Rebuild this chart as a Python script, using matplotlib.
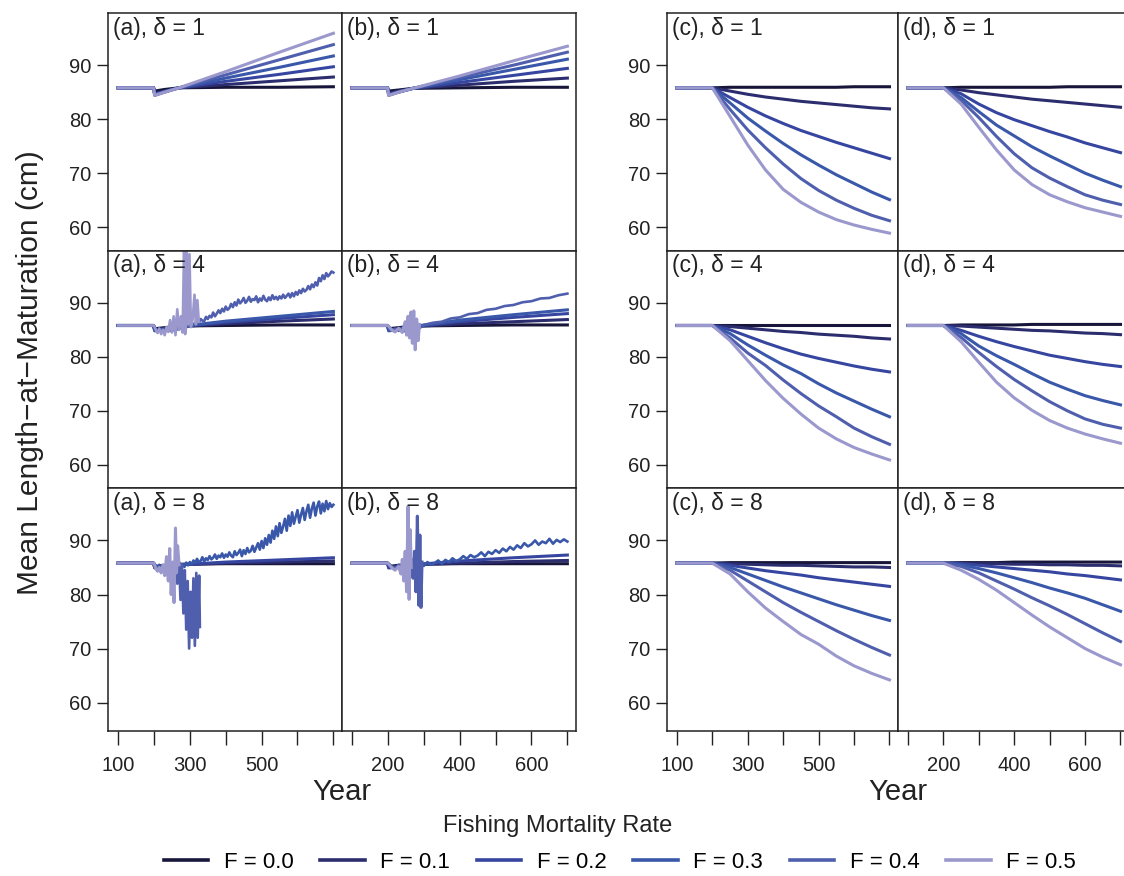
import matplotlib
matplotlib.use("Agg")
import matplotlib.pyplot as plt
from matplotlib.lines import Line2D

plt.rcParams['font.family'] = ['Liberation Sans', 'DejaVu Sans']

# ---- data ----
f_labels = ["F = 0.0", "F = 0.1", "F = 0.2", "F = 0.3", "F = 0.4", "F = 0.5"]
colors = ['#17163a', '#2c2d6e', '#3646a0', '#3a58aa', '#4f5fae', '#9a98cc']

# right-hand panels (c), (d): smooth declines
years_r = [100, 200, 250, 300, 350, 400, 450, 500, 550, 600, 650, 700]
c_delta1 = [
    [85.8, 85.8, 85.9, 85.9, 85.9, 85.9, 85.9, 85.9, 85.9, 86.0, 86.0, 86.0],
    [85.8, 85.8, 85.2, 84.6, 84.1, 83.7, 83.3, 83.0, 82.7, 82.4, 82.1, 81.9],
    [85.8, 85.8, 84.0, 82.2, 80.6, 79.2, 77.9, 76.8, 75.7, 74.7, 73.7, 72.7],
    [85.8, 85.8, 83.0, 80.2, 77.8, 75.5, 73.4, 71.5, 69.7, 68.1, 66.5, 65.1],
    [85.8, 85.8, 81.8, 78.0, 74.7, 71.7, 69.0, 66.8, 65.0, 63.5, 62.2, 61.2],
    [85.8, 85.8, 80.5, 75.2, 70.6, 67.0, 64.6, 62.8, 61.4, 60.4, 59.6, 58.9],
]
d_delta1 = [
    [85.8, 85.8, 85.9, 85.9, 85.9, 85.9, 85.9, 85.9, 86.0, 86.0, 86.0, 86.0],
    [85.8, 85.8, 85.4, 84.9, 84.5, 84.1, 83.7, 83.4, 83.1, 82.8, 82.5, 82.2],
    [85.8, 85.8, 84.7, 82.8, 81.2, 79.9, 78.8, 77.7, 76.7, 75.6, 74.7, 73.8],
    [85.8, 85.8, 84.0, 81.4, 78.9, 76.9, 74.9, 73.2, 71.6, 70.0, 68.7, 67.5],
    [85.8, 85.8, 83.5, 80.3, 76.8, 73.6, 71.0, 69.1, 67.5, 66.0, 65.0, 64.2],
    [85.8, 85.8, 82.8, 78.5, 74.3, 70.6, 67.9, 66.0, 64.7, 63.6, 62.8, 62.0],
]
c_delta4 = [
    [85.8, 85.8, 85.8, 85.8, 85.8, 85.8, 85.8, 85.8, 85.8, 85.8, 85.8, 85.8],
    [85.8, 85.8, 85.6, 85.3, 85.0, 84.7, 84.5, 84.2, 84.0, 83.8, 83.5, 83.3],
    [85.8, 85.8, 85.0, 83.8, 82.6, 81.5, 80.5, 79.7, 79.0, 78.3, 77.7, 77.2],
    [85.8, 85.8, 84.3, 82.2, 80.3, 78.5, 76.9, 75.0, 73.3, 71.8, 70.3, 68.9],
    [85.8, 85.8, 83.5, 80.7, 78.4, 75.7, 73.2, 70.9, 68.9, 66.8, 65.2, 63.8],
    [85.8, 85.8, 83.0, 79.3, 75.6, 72.3, 69.4, 66.8, 64.8, 63.2, 62.0, 60.9],
]
d_delta4 = [
    [85.8, 85.8, 85.9, 85.9, 85.9, 85.9, 86.0, 86.0, 86.0, 86.0, 86.0, 86.0],
    [85.8, 85.8, 85.7, 85.5, 85.3, 85.1, 84.9, 84.8, 84.6, 84.4, 84.3, 84.1],
    [85.8, 85.8, 84.9, 83.8, 82.8, 81.9, 81.1, 80.3, 79.7, 79.1, 78.6, 78.2],
    [85.8, 85.8, 84.3, 82.0, 80.2, 78.6, 76.9, 75.3, 74.0, 72.8, 71.9, 71.1],
    [85.8, 85.8, 83.6, 80.8, 78.2, 75.8, 73.7, 71.7, 70.0, 68.5, 67.5, 66.8],
    [85.8, 85.8, 82.8, 79.0, 75.3, 72.4, 70.1, 68.2, 66.8, 65.7, 64.8, 64.0],
]
c_delta8 = [
    [85.8, 85.8, 85.9, 85.9, 85.9, 85.9, 85.9, 85.9, 85.9, 85.9, 85.9, 85.9],
    [85.8, 85.8, 85.7, 85.6, 85.5, 85.4, 85.4, 85.3, 85.2, 85.1, 85.1, 85.0],
    [85.8, 85.8, 85.4, 84.9, 84.4, 84.0, 83.6, 83.1, 82.7, 82.3, 81.9, 81.5],
    [85.8, 85.8, 85.0, 83.8, 82.6, 81.4, 80.3, 79.2, 78.1, 77.1, 76.1, 75.2],
    [85.8, 85.8, 84.5, 82.5, 80.5, 78.5, 76.7, 75.0, 73.3, 71.7, 70.2, 68.8],
    [85.8, 85.8, 83.8, 80.5, 77.5, 75.0, 72.6, 70.8, 68.6, 66.8, 65.4, 64.2],
]
d_delta8 = [
    [85.8, 85.8, 85.9, 85.9, 85.9, 86.0, 86.0, 86.0, 86.0, 86.0, 86.0, 86.0],
    [85.8, 85.8, 85.8, 85.7, 85.7, 85.6, 85.6, 85.5, 85.5, 85.4, 85.4, 85.3],
    [85.8, 85.8, 85.7, 85.4, 85.1, 84.8, 84.5, 84.2, 83.8, 83.5, 83.1, 82.7],
    [85.8, 85.8, 85.5, 84.8, 84.0, 83.1, 82.2, 81.2, 80.3, 79.3, 78.1, 76.9],
    [85.8, 85.8, 85.2, 84.0, 82.5, 81.0, 79.4, 77.9, 76.3, 74.6, 72.9, 71.3],
    [85.8, 85.8, 84.5, 82.8, 80.8, 78.5, 76.2, 74.0, 72.0, 70.0, 68.4, 67.0],
]

# left-hand panels (a), (b): smooth series
years_l = [100, 199, 202, 230, 270, 400, 550, 700]
a_delta1 = [
    [85.8, 85.8, 85.2, 85.5, 85.8, 85.9, 85.9, 86.0],
    [85.8, 85.8, 84.8, 85.2, 85.8, 86.4, 87.1, 87.8],
    [85.8, 85.8, 84.6, 85.1, 85.8, 87.0, 88.3, 89.7],
    [85.8, 85.8, 84.5, 85.1, 85.8, 87.6, 89.6, 91.7],
    [85.8, 85.8, 84.4, 85.0, 85.8, 88.2, 91.0, 93.8],
    [85.8, 85.8, 84.4, 85.0, 85.8, 88.8, 92.4, 95.9],
]
b_delta1 = [
    [85.8, 85.8, 85.2, 85.4, 85.7, 85.8, 85.9, 85.9],
    [85.8, 85.8, 84.8, 85.2, 85.7, 86.3, 87.0, 87.6],
    [85.8, 85.8, 84.6, 85.1, 85.7, 86.8, 88.1, 89.4],
    [85.8, 85.8, 84.5, 85.0, 85.7, 87.3, 89.2, 91.1],
    [85.8, 85.8, 84.4, 85.0, 85.7, 87.7, 90.0, 92.4],
    [85.8, 85.8, 84.4, 85.0, 85.7, 88.0, 90.8, 93.5],
]
a_delta4 = [
    [85.8, 85.8, 85.2, 85.4, 85.7, 85.8, 85.9, 85.9],
    [85.8, 85.8, 85.0, 85.2, 85.6, 86.1, 86.6, 87.0],
    [85.8, 85.8, 84.9, 85.2, 85.6, 86.4, 87.1, 87.8],
    [85.8, 85.8, 84.8, 85.1, 85.6, 86.6, 87.5, 88.4],
]
b_delta4 = [
    [85.8, 85.8, 85.2, 85.4, 85.7, 85.8, 85.9, 85.9],
    [85.8, 85.8, 85.0, 85.2, 85.6, 86.1, 86.5, 86.9],
    [85.8, 85.8, 84.9, 85.2, 85.6, 86.5, 87.3, 88.0],
    [85.8, 85.8, 84.8, 85.1, 85.6, 86.8, 87.8, 88.7],
]
a_delta8 = [
    [85.8, 85.8, 85.2, 85.4, 85.6, 85.7, 85.7, 85.7],
    [85.8, 85.8, 85.0, 85.2, 85.5, 85.8, 86.0, 86.2],
    [85.8, 85.8, 84.9, 85.1, 85.5, 86.0, 86.4, 86.8],
]
b_delta8 = [
    [85.8, 85.8, 85.2, 85.4, 85.6, 85.7, 85.7, 85.7],
    [85.8, 85.8, 85.0, 85.2, 85.5, 85.8, 86.1, 86.3],
    [85.8, 85.8, 84.9, 85.1, 85.5, 86.2, 86.8, 87.3],
]

# noisy surviving series (5-year and 10-year steps)
years_5 = [100] + list(range(200, 701, 5))
years_10 = [100] + list(range(200, 701, 10))
a4_f04 = [85.8,
          85.8, 85.1, 84.7, 85.3, 84.9, 85.0, 84.6, 85.4, 85.0, 84.8,
          85.3, 84.9, 85.6, 85.1, 85.0, 85.7, 85.3, 85.9, 85.4, 86.0,
          85.7, 86.3, 86.0, 86.2, 86.8, 86.3, 87.0, 86.7, 86.6, 87.4,
          87.0, 87.6, 87.3, 88.2, 87.5, 88.0, 88.6, 88.1, 88.9, 88.4,
          89.3, 88.7, 89.0, 89.8, 89.2, 90.1, 89.5, 90.6, 89.9, 90.3,
          90.9, 90.0, 90.4, 91.1, 90.2, 90.7, 90.5, 91.2, 90.1, 90.8,
          90.4, 91.3, 90.6, 90.3, 91.0, 90.5, 91.4, 90.7, 91.1, 90.6,
          91.2, 90.8, 91.5, 90.9, 91.3, 91.7, 91.0, 91.8, 91.2, 92.0,
          91.5, 92.3, 91.8, 92.6, 92.1, 92.4, 93.1, 92.5, 93.4, 92.9,
          93.8, 93.2, 94.6, 94.0, 95.1, 94.4, 95.5, 94.9, 95.3, 95.8,
          95.6]
a8_f03 = [85.8,
          85.8, 85.2, 84.8, 85.5, 84.6, 85.3, 85.0, 84.7, 85.6, 85.1,
          84.9, 85.7, 85.2, 85.0, 85.8, 85.3, 85.6, 85.1, 85.9, 85.4,
          86.0, 85.5, 86.3, 85.8, 86.6, 86.0, 86.2, 86.9, 86.1, 86.7,
          86.4, 87.1, 86.5, 86.8, 87.4, 86.6, 87.2, 86.9, 87.6, 86.8,
          87.4, 87.0, 87.8, 87.2, 86.9, 88.0, 87.3, 87.7, 88.3, 87.1,
          88.2, 87.5, 88.6, 87.8, 88.1, 89.0, 87.9, 88.7, 89.5, 88.3,
          89.9, 88.6, 90.4, 89.2, 91.0, 89.6, 91.8, 90.3, 92.6, 90.8,
          93.2, 91.4, 92.6, 94.0, 91.8, 94.6, 92.7, 95.2, 93.1, 94.4,
          95.6, 93.3, 94.8, 96.0, 93.8, 95.4, 96.6, 94.2, 95.9, 97.0,
          94.6, 96.3, 97.2, 95.0, 96.8, 95.4, 97.3, 95.8, 96.9, 96.2,
          96.6]
b8_f03 = [85.8,
          85.8, 85.2, 84.8, 85.5, 84.9, 85.4, 85.1, 85.7, 85.0, 85.6,
          85.3, 86.0, 85.5, 85.8, 86.3, 85.7, 86.4, 86.0, 86.7, 86.2,
          86.5, 87.1, 86.6, 87.3, 86.9, 87.2, 87.8, 87.1, 87.9, 87.5,
          88.2, 87.7, 88.5, 88.0, 88.8, 88.3, 89.1, 88.6, 89.5, 88.9,
          89.3, 90.0, 89.2, 89.8, 89.5, 90.3, 89.4, 90.1, 89.7, 90.2,
          89.8]

# collapsing / oscillating series
a4_f05_years = [100, 200, 205, 210, 215, 220, 225, 230, 235, 240, 245, 250, 255, 260,
                265, 270, 275, 280, 284, 287, 291, 295, 299, 303, 308, 313, 317, 321, 325]
a4_f05 = [85.8, 85.8, 85.0, 84.4, 85.2, 84.2, 85.0, 84.0, 85.5, 84.6, 86.8, 84.5, 87.5, 84.0,
          88.8, 85.0, 87.5, 84.5, 100.5, 84.2, 100.5, 86.0, 99.0, 85.5, 87.0, 91.5, 86.0, 90.5, 86.5]
a8_f04_years = [100, 200, 210, 220, 230, 240, 250, 260, 265, 270, 274, 278, 282, 286,
                290, 294, 298, 302, 306, 310, 314, 318, 322, 326, 328]
a8_f04 = [85.8, 85.8, 85.0, 84.5, 84.2, 85.3, 84.0, 85.5, 82.0, 86.0, 79.0, 85.5, 76.5, 84.5,
          73.5, 82.5, 70.0, 80.5, 72.0, 83.0, 70.5, 84.0, 72.0, 83.5, 74.0]
a8_f05_years = [100, 200, 205, 210, 215, 220, 225, 230, 235, 240, 244, 248, 252, 256,
                260, 263, 266, 270]
a8_f05 = [85.8, 85.8, 84.8, 84.3, 85.0, 84.0, 85.5, 83.5, 87.0, 82.5, 88.5, 80.0, 86.0, 78.5,
          92.3, 84.0, 89.0, 85.5]
b4_f04_years = [100, 200, 210, 220, 230, 240, 250, 260, 270, 280, 290, 300, 325, 350, 375,
                400, 425, 450, 475, 500, 525, 550, 575, 600, 625, 650, 675, 700]
b4_f04 = [85.8, 85.8, 85.0, 85.2, 84.8, 85.3, 84.6, 85.5, 84.0, 85.8, 85.4, 85.9, 86.3, 86.5, 87.1,
          87.3, 87.9, 88.1, 88.7, 88.9, 89.4, 89.6, 90.1, 90.3, 90.8, 90.9, 91.4, 91.7]
b4_f05_years = [100, 200, 210, 220, 230, 240, 248, 252, 256, 260, 264, 268, 272, 276,
                280, 284, 288]
b4_f05 = [85.8, 85.8, 85.0, 84.6, 85.3, 84.5, 86.5, 84.0, 87.5, 83.5, 88.3, 82.5, 88.5, 81.3,
          87.0, 83.0, 86.0]
b8_f04_years = [100, 200, 210, 220, 230, 240, 250, 260, 266, 270, 274, 278, 282, 286,
                289, 292, 295]
b8_f04 = [85.8, 85.8, 85.2, 84.8, 85.4, 84.6, 85.6, 84.2, 86.5, 83.0, 88.0, 80.5, 94.5, 78.0,
          91.0, 77.6, 86.0]
b8_f05_years = [100, 200, 210, 220, 230, 236, 240, 244, 248, 252, 256, 259, 262, 265]
b8_f05 = [85.8, 85.8, 85.0, 84.5, 85.2, 83.8, 86.5, 82.5, 88.0, 80.5, 96.3, 79.1, 92.0, 85.0]

year_ticks = [100, 200, 300, 400, 500, 600, 700]

# ---- figure ----
W, H = 1124, 876
fig = plt.figure(figsize=(W / 100, H / 100), dpi=100)

col_left = {'a': 108, 'b': 342, 'c': 667, 'd': 898}
col_width = {'a': 234, 'b': 234, 'c': 231, 'd': 231}
row_top = [13, 250.7, 488.3]
row_bot = [250.7, 488.3, 730.7]
deltas = [1, 4, 8]

panels = {
    ('a', 0): [(years_l, s, i) for i, s in enumerate(a_delta1)],
    ('b', 0): [(years_l, s, i) for i, s in enumerate(b_delta1)],
    ('c', 0): [(years_r, s, i) for i, s in enumerate(c_delta1)],
    ('d', 0): [(years_r, s, i) for i, s in enumerate(d_delta1)],
    ('a', 1): [(years_l, s, i) for i, s in enumerate(a_delta4)]
              + [(years_5, a4_f04, 4), (a4_f05_years, a4_f05, 5)],
    ('b', 1): [(years_l, s, i) for i, s in enumerate(b_delta4)]
              + [(b4_f04_years, b4_f04, 4), (b4_f05_years, b4_f05, 5)],
    ('c', 1): [(years_r, s, i) for i, s in enumerate(c_delta4)],
    ('d', 1): [(years_r, s, i) for i, s in enumerate(d_delta4)],
    ('a', 2): [(years_l, s, i) for i, s in enumerate(a_delta8)]
              + [(years_5, a8_f03, 3), (a8_f04_years, a8_f04, 4), (a8_f05_years, a8_f05, 5)],
    ('b', 2): [(years_l, s, i) for i, s in enumerate(b_delta8)]
              + [(years_10, b8_f03, 3), (b8_f04_years, b8_f04, 4), (b8_f05_years, b8_f05, 5)],
    ('c', 2): [(years_r, s, i) for i, s in enumerate(c_delta8)],
    ('d', 2): [(years_r, s, i) for i, s in enumerate(d_delta8)],
}

for (col, r), series in panels.items():
    left = col_left[col] / W
    width = col_width[col] / W
    bottom = 1 - row_bot[r] / H
    height = (row_bot[r] - row_top[r]) / H
    ax = fig.add_axes([left, bottom, width, height])
    for xs, ys, ci in series:
        lw = 2.2 if len(xs) < 20 else 1.9
        ax.plot(xs, ys, color=colors[ci], lw=lw, solid_joinstyle='round')
    ax.set_xlim(72, 724)
    if r == 2:
        ax.set_ylim(54.8, 99.65)
    else:
        ax.set_ylim(55.65, 99.65)
    for sp in ax.spines.values():
        sp.set_linewidth(1.1)
        sp.set_color('#222222')
    ax.text(0.02, 0.985, f"({col}), \u03b4 = {deltas[r]}", transform=ax.transAxes,
            ha='left', va='top', fontsize=16.5, color='#222222')
    ax.tick_params(direction='out', length=8, width=1.0, colors='#222222',
                   labelsize=14.5, labelcolor='#222222', pad=4)
    if col in ('a', 'c'):
        ax.set_yticks([60, 70, 80, 90])
    else:
        ax.set_yticks([])
    if r == 2:
        ax.set_xticks(year_ticks)
        if col in ('a', 'c'):
            ax.set_xticklabels(['100', '', '300', '', '500', '', ''])
        else:
            ax.set_xticklabels(['', '200', '', '400', '', '600', ''])
        ax.tick_params(axis='x', length=10, pad=8)
    else:
        ax.set_xticks([])

fig.text(30 / W, 1 - 373 / H, "Mean Length\u2212at\u2212Maturation (cm)", rotation=90,
         ha='center', va='center', fontsize=21.5, color='#222222')
fig.text(342 / W, 1 - 792 / H, "Year", ha='center', va='center', fontsize=21, color='#222222')
fig.text(898 / W, 1 - 792 / H, "Year", ha='center', va='center', fontsize=21, color='#222222')
fig.text(558 / W, 1 - 826 / H, "Fishing Mortality Rate", ha='center', va='center',
         fontsize=17, color='#222222')

handles = [Line2D([0], [0], color=c, lw=2.6) for c in colors]
fig.legend(handles, f_labels, loc='center', bbox_to_anchor=(620 / W, 1 - 862 / H),
           ncol=6, frameon=False, fontsize=16, handlelength=2.0, handletextpad=0.7,
           columnspacing=1.2)

fig.savefig("out.png", dpi=100)
